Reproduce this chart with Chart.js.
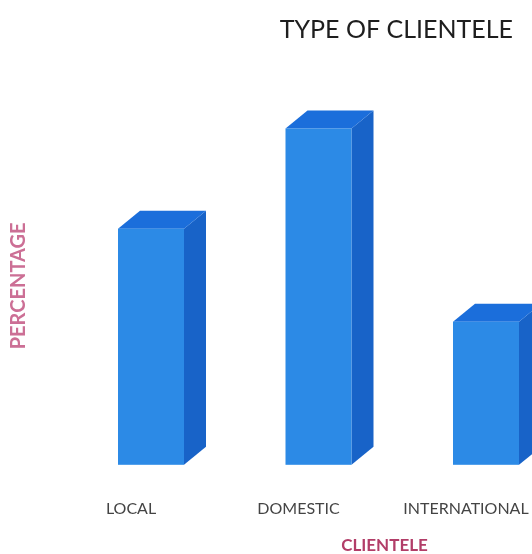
<!DOCTYPE html>
<html>
<head>
<meta charset="utf-8">
<script src="https://cdn.jsdelivr.net/npm/chart.js@4.4.1/dist/chart.umd.min.js"></script>
<style>
  html, body { margin: 0; padding: 0; background: #fff; }
  #wrap { width: 532px; height: 554px; }
</style>
</head>
<body>
<div id="wrap"><canvas id="clienteleChart"></canvas></div>
<script>
// Share of clients by type (percent)
const categories = ['LOCAL', 'DOMESTIC', 'INTERNATIONAL'];
const percentages = [33, 47, 20];
const yMax = 50;

const chartTitle = 'TYPE OF CLIENTELE';
const xTitle = 'CLIENTELE';
const yTitle = 'PERCENTAGE';

// 3D box look
const faceFront = '#2c8ae6';
const faceTop = '#1b6edb';
const faceSide = '#1863c8';
const depthX = 22;
const depthY = 18;
const shiftX = 20;

// draws each bar as a box: front face + top + right side
const boxBars = {
    id: 'boxBars',
    afterDatasetsDraw(chart) {
        const ctx = chart.ctx;
        const meta = chart.getDatasetMeta(0);
        ctx.save();
        meta.data.forEach(function (bar) {
            const w = bar.width;
            const l = bar.x + shiftX - w / 2;
            const r = l + w;
            const t = bar.y;
            const b = bar.base;

            ctx.fillStyle = faceSide;
            ctx.beginPath();
            ctx.moveTo(r, t);
            ctx.lineTo(r + depthX, t - depthY);
            ctx.lineTo(r + depthX, b - depthY);
            ctx.lineTo(r, b);
            ctx.closePath();
            ctx.fill();

            ctx.fillStyle = faceTop;
            ctx.beginPath();
            ctx.moveTo(l, t);
            ctx.lineTo(l + depthX, t - depthY);
            ctx.lineTo(r + depthX, t - depthY);
            ctx.lineTo(r, t);
            ctx.closePath();
            ctx.fill();

            ctx.fillStyle = faceFront;
            ctx.fillRect(l, t, w, b - t);
        });
        ctx.restore();
    }
};

// chart heading and the category axis caption
const captions = {
    id: 'captions',
    afterDraw(chart) {
        const ctx = chart.ctx;
        const area = chart.chartArea;
        ctx.save();
        ctx.fillStyle = '#1e1e1e';
        ctx.font = '25px Lato';
        ctx.textAlign = 'right';
        ctx.textBaseline = 'alphabetic';
        ctx.fillText(chartTitle, 513, 38);

        ctx.fillStyle = '#b23d68';
        ctx.font = 'bold 17px Lato';
        ctx.textAlign = 'center';
        ctx.textBaseline = 'middle';
        ctx.fillText(xTitle, (area.left + area.right) / 2 + 86, 546);
        ctx.restore();
    }
};

window.onload = function () {
    const ctx = document.getElementById('clienteleChart').getContext('2d');
    new Chart(ctx, {
        type: 'bar',
        data: {
            labels: categories,
            datasets: [{
                label: 'Clientele',
                data: percentages,
                backgroundColor: 'rgba(0,0,0,0)',
                barThickness: 66
            }]
        },
        options: {
            responsive: true,
            maintainAspectRatio: false,
            animation: false,
            layout: {
                padding: { top: 107, bottom: 2, right: 0, left: 0 }
            },
            plugins: {
                legend: { display: false },
                tooltip: { enabled: false }
            },
            scales: {
                x: {
                    offset: false,
                    grid: { display: false, drawTicks: false },
                    border: { display: false },
                    ticks: {
                        padding: 34,
                        color: '#444',
                        font: { family: 'Lato', size: 16 }
                    },
                    afterFit: function (scale) {
                        scale.paddingLeft = 0;
                        scale.paddingRight = 66;
                    }
                },
                y: {
                    min: 0,
                    max: yMax,
                    grid: { display: false, drawTicks: false },
                    border: { display: false },
                    ticks: { display: false },
                    title: {
                        display: true,
                        text: yTitle,
                        color: '#cc6f95',
                        padding: { top: 7 },
                        font: { family: 'Lato', size: 20, weight: 'bold' }
                    },
                    afterFit: function (scale) {
                        scale.width = 131;
                    }
                }
            }
        },
        plugins: [boxBars, captions]
    });
};
</script>
</body>
</html>
